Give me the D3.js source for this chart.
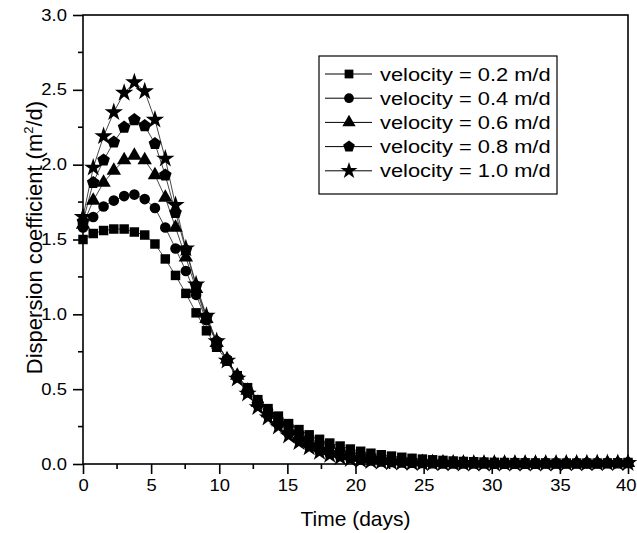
<!DOCTYPE html>
<html>
<head>
<meta charset="utf-8">
<script src="https://cdn.jsdelivr.net/npm/d3@7"></script>
<style>
  body { margin: 0; background: #fff; }
  text { font-family: "Liberation Sans", Arial, sans-serif; fill: #000; }
</style>
</head>
<body>
<div id="chart"></div>
<script>
// ---- data ----
const times = [0, 0.75, 1.51, 2.26, 3.02, 3.77, 4.53, 5.28, 6.04, 6.79,
  7.55, 8.30, 9.06, 9.81, 10.57, 11.32, 12.08, 12.83, 13.58, 14.34,
  15.09, 15.85, 16.60, 17.36, 18.11, 18.87, 19.62, 20.38, 21.13, 21.89,
  22.64, 23.40, 24.15, 24.91, 25.66, 26.42, 27.17, 27.92, 28.68, 29.43,
  30.19, 30.94, 31.70, 32.45, 33.21, 33.96, 34.72, 35.47, 36.23, 36.98,
  37.74, 38.49, 39.25, 40.00];

const vel02 = [1.50, 1.54, 1.56, 1.57, 1.57, 1.55, 1.53, 1.47, 1.37, 1.26,
  1.14, 1.01, 0.89, 0.78, 0.69, 0.59, 0.51, 0.43, 0.37, 0.32,
  0.27, 0.23, 0.195, 0.165, 0.14, 0.12, 0.10, 0.085, 0.072, 0.062,
  0.053, 0.045, 0.038, 0.033, 0.028, 0.024, 0.020, 0.017, 0.015, 0.013,
  0.011, 0.010, 0.009, 0.008, 0.007, 0.007, 0.006, 0.006, 0.006, 0.006,
  0.006, 0.007, 0.008, 0.010];

const vel04 = [1.58, 1.65, 1.72, 1.76, 1.79, 1.80, 1.77, 1.71, 1.58, 1.44,
  1.29, 1.13, 0.96, 0.81, 0.70, 0.59, 0.50, 0.42, 0.36, 0.30,
  0.25, 0.205, 0.17, 0.14, 0.115, 0.094, 0.077, 0.063, 0.052, 0.043,
  0.035, 0.029, 0.024, 0.020, 0.017, 0.014, 0.012, 0.010, 0.009, 0.008,
  0.007, 0.006, 0.006, 0.005, 0.005, 0.005, 0.005, 0.005, 0.005, 0.006,
  0.006, 0.007, 0.008, 0.009];

const vel06 = [1.60, 1.76, 1.88, 1.96, 2.03, 2.06, 2.03, 1.93, 1.78, 1.58,
  1.38, 1.17, 0.97, 0.81, 0.70, 0.59, 0.49, 0.41, 0.34, 0.28,
  0.23, 0.185, 0.145, 0.115, 0.09, 0.07, 0.055, 0.043, 0.034, 0.027,
  0.021, 0.017, 0.014, 0.011, 0.009, 0.008, 0.007, 0.006, 0.005, 0.005,
  0.004, 0.004, 0.004, 0.004, 0.004, 0.004, 0.004, 0.005, 0.005, 0.005,
  0.006, 0.006, 0.007, 0.008];

const vel08 = [1.62, 1.88, 2.03, 2.15, 2.25, 2.30, 2.26, 2.14, 1.93, 1.68,
  1.43, 1.19, 0.98, 0.82, 0.69, 0.58, 0.48, 0.40, 0.33, 0.27,
  0.21, 0.165, 0.125, 0.095, 0.072, 0.054, 0.041, 0.031, 0.024, 0.018,
  0.014, 0.011, 0.009, 0.007, 0.006, 0.005, 0.005, 0.004, 0.004, 0.004,
  0.003, 0.003, 0.003, 0.003, 0.003, 0.004, 0.004, 0.004, 0.004, 0.005,
  0.005, 0.006, 0.006, 0.007];

const vel10 = [1.65, 1.98, 2.19, 2.35, 2.48, 2.55, 2.49, 2.30, 2.04, 1.73,
  1.44, 1.20, 0.99, 0.82, 0.69, 0.57, 0.47, 0.38, 0.31, 0.25,
  0.19, 0.145, 0.11, 0.08, 0.06, 0.044, 0.033, 0.025, 0.019, 0.014,
  0.011, 0.009, 0.007, 0.006, 0.005, 0.004, 0.004, 0.003, 0.003, 0.003,
  0.003, 0.003, 0.003, 0.003, 0.003, 0.003, 0.003, 0.004, 0.004, 0.004,
  0.005, 0.005, 0.006, 0.006];

const seriesNames = ["velocity = 0.2 m/d", "velocity = 0.4 m/d", "velocity = 0.6 m/d",
  "velocity = 0.8 m/d", "velocity = 1.0 m/d"];
const xTicks = [0, 5, 10, 15, 20, 25, 30, 35, 40];
const yTicks = [0.0, 0.5, 1.0, 1.5, 2.0, 2.5, 3.0];

// ---- layout ----
const W = 637, H = 533;
const m = { left: 83, right: 9, top: 15, bottom: 69 };
const stretch = 1.15; // glyphs in the original look slightly widened

const svg = d3.select('#chart').append('svg')
  .attr('width', W).attr('height', H);

const x = d3.scaleLinear().domain([0, 40]).range([m.left, W - m.right]);
const y = d3.scaleLinear().domain([0, 3]).range([H - m.bottom, m.top]);

// pentagon marker
const symbolPentagon = {
  draw(ctx, size) {
    const r = Math.sqrt(size / 2.378);
    for (let i = 0; i < 5; i++) {
      const a = -Math.PI / 2 + i * 2 * Math.PI / 5;
      const px = r * Math.cos(a), py = r * Math.sin(a);
      if (i === 0) ctx.moveTo(px, py); else ctx.lineTo(px, py);
    }
    ctx.closePath();
  }
};

const shapes = [
  { type: d3.symbolSquare, size: 90 },
  { type: d3.symbolCircle, size: 88 },
  { type: d3.symbolTriangle, size: 90 },
  { type: symbolPentagon, size: 105 },
  { type: d3.symbolStar, size: 105 }
];

const allSeries = [vel02, vel04, vel06, vel08, vel10];

// ---- axes ----
const xAxis = d3.axisBottom(x).tickValues(xTicks).tickSize(10).tickPadding(6)
  .tickFormat(d3.format('d'));
const yAxis = d3.axisLeft(y).tickValues(yTicks).tickSize(10).tickPadding(4)
  .tickFormat(d3.format('.1f'));

const gx = svg.append('g').attr('transform', `translate(0,${H - m.bottom})`).call(xAxis);
const gy = svg.append('g').attr('transform', `translate(${m.left},0)`).call(yAxis);
[gx, gy].forEach(g => {
  g.select('.domain').remove();
  g.selectAll('line').attr('stroke', '#000').attr('stroke-width', 1.6);
  g.selectAll('text').attr('font-size', 16).attr('fill', '#000')
    .attr('transform', `scale(${stretch},1)`)
    .style('font-family', '"Liberation Sans", Arial, sans-serif');
});
// keep the last label inside the page
gx.selectAll('.tick text').filter(d => d === 40)
  .attr('text-anchor', 'end').attr('x', 8 / stretch);

// minor ticks
svg.append('g').selectAll('line')
  .data(d3.range(2.5, 40, 5))
  .join('line')
  .attr('x1', d => x(d)).attr('x2', d => x(d))
  .attr('y1', H - m.bottom).attr('y2', H - m.bottom + 5)
  .attr('stroke', '#000').attr('stroke-width', 1.6);
svg.append('g').selectAll('line')
  .data(d3.range(0.25, 3, 0.5))
  .join('line')
  .attr('x1', m.left - 5).attr('x2', m.left)
  .attr('y1', d => y(d)).attr('y2', d => y(d))
  .attr('stroke', '#000').attr('stroke-width', 1.6);

// ---- series ----
const line = d3.line().x((d, i) => x(times[i])).y(d => y(d));

const plot = svg.append('g');
allSeries.forEach(vals => {
  plot.append('path')
    .datum(vals)
    .attr('d', line)
    .attr('fill', 'none')
    .attr('stroke', '#333')
    .attr('stroke-width', 0.9);
});
allSeries.forEach((vals, k) => {
  const sym = d3.symbol().type(shapes[k].type).size(shapes[k].size);
  plot.append('g').selectAll('path')
    .data(vals)
    .join('path')
    .attr('d', sym)
    .attr('transform', (d, i) => `translate(${x(times[i])},${y(d)})`)
    .attr('fill', '#000');
});

// frame
svg.append('rect')
  .attr('x', m.left).attr('y', m.top)
  .attr('width', W - m.right - m.left).attr('height', H - m.bottom - m.top)
  .attr('fill', 'none').attr('stroke', '#000').attr('stroke-width', 1.6);

// ---- axis titles ----
svg.append('text')
  .attr('x', (m.left + W - m.right) / 2).attr('y', 526)
  .attr('text-anchor', 'middle').attr('font-size', 21)
  .text('Time (days)');

const yt = svg.append('text')
  .attr('transform', `translate(42,${(m.top + H - m.bottom) / 2 - 2}) rotate(-90)`)
  .attr('text-anchor', 'middle').attr('font-size', 22);
yt.append('tspan').text('Dispersion coefficient (m');
yt.append('tspan').attr('font-size', 13).attr('dy', -9).text('2');
yt.append('tspan').attr('dy', 9).text('/d)');

// ---- legend ----
const lg = svg.append('g');
lg.append('rect')
  .attr('x', 319).attr('y', 56).attr('width', 238).attr('height', 138)
  .attr('fill', '#fff').attr('stroke', '#000').attr('stroke-width', 1.2);
seriesNames.forEach((name, k) => {
  const cy = 74 + k * 24.2;
  lg.append('line').attr('x1', 325).attr('x2', 372).attr('y1', cy).attr('y2', cy)
    .attr('stroke', '#000').attr('stroke-width', 1);
  lg.append('path')
    .attr('d', d3.symbol().type(shapes[k].type).size(shapes[k].size * 0.85)())
    .attr('transform', `translate(349,${cy})`).attr('fill', '#000');
  lg.append('text')
    .attr('transform', `translate(380,${cy + 6.5}) scale(${stretch},1)`)
    .attr('font-size', 19).text(name);
});
</script>
</body>
</html>
